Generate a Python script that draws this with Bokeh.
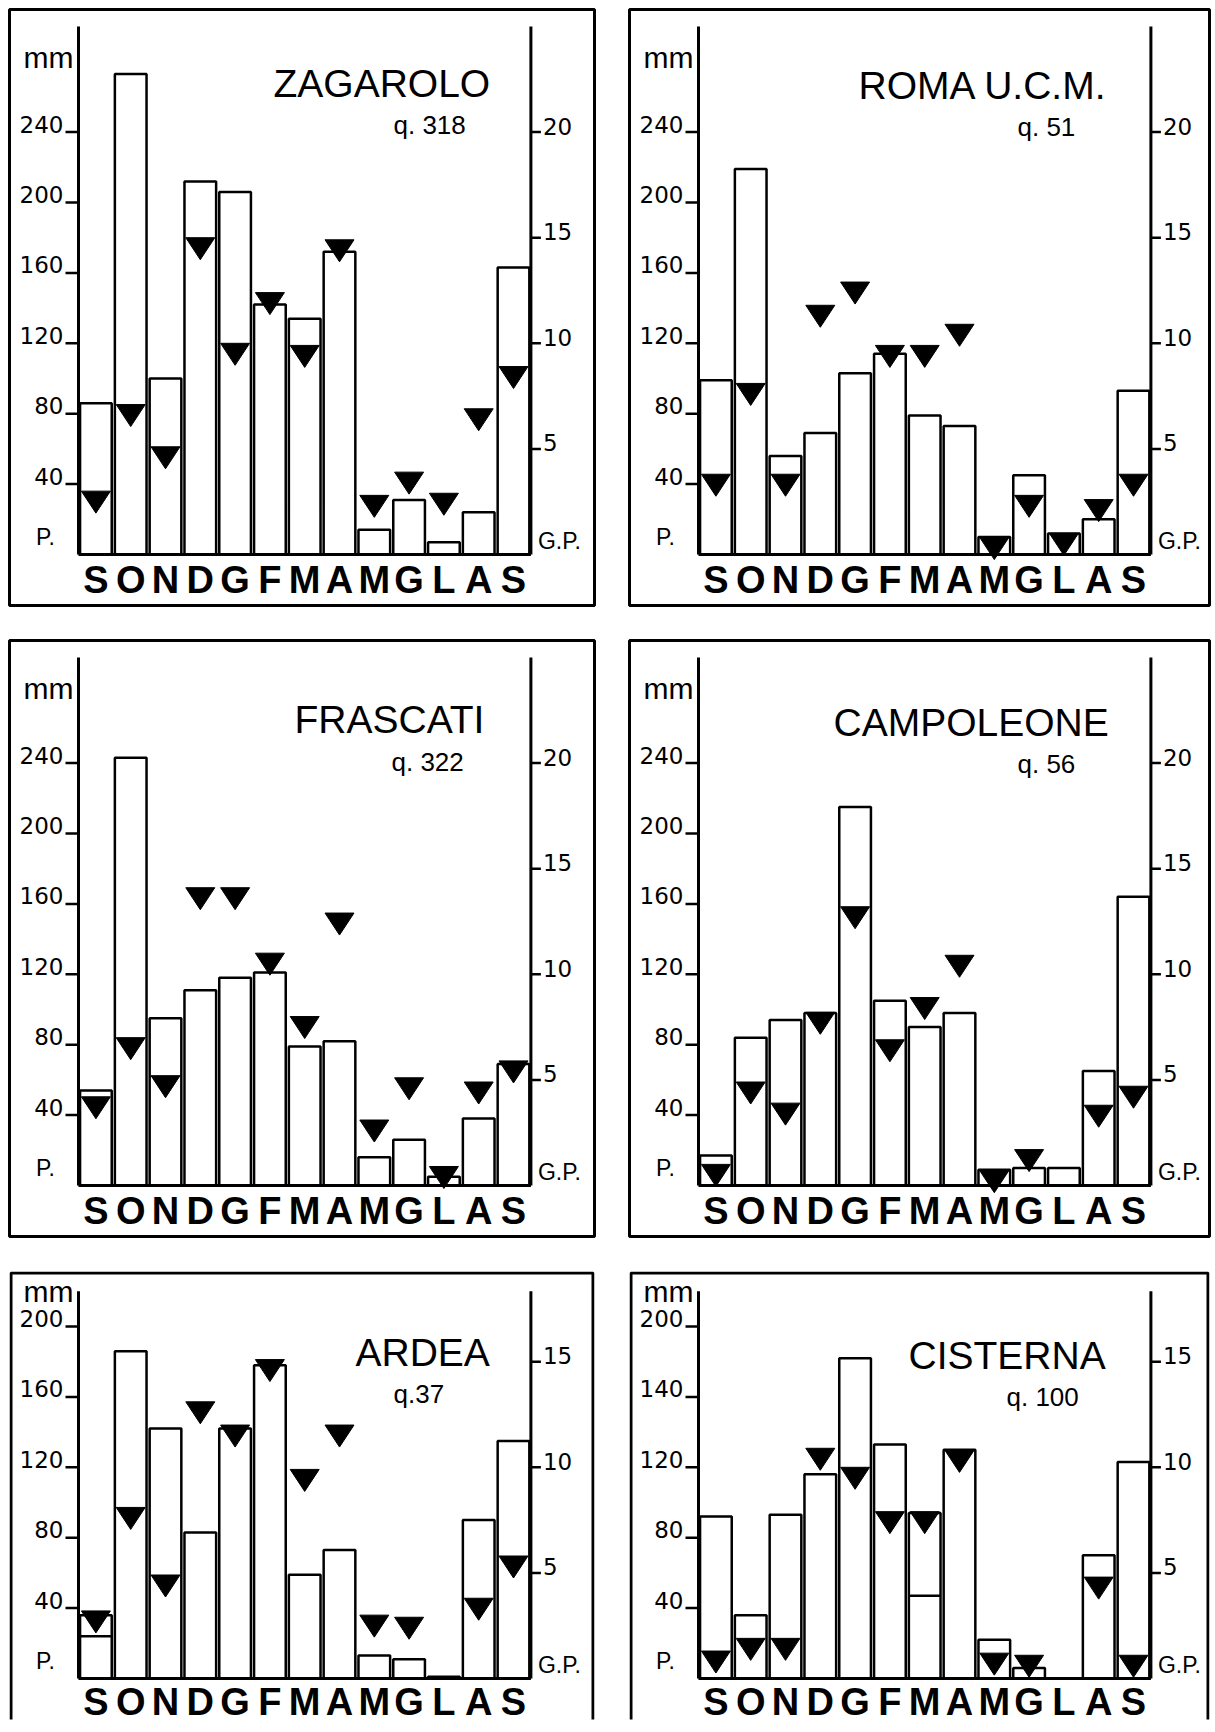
import math
from bokeh.plotting import figure
from bokeh.layouts import row, column
from bokeh.models import Range1d
from bokeh.core.properties import value
from bokeh.embed import file_html
from bokeh.resources import INLINE

NaN = float("nan")

# ---------------- data ----------------
months = ["S", "O", "N", "D", "G", "F", "M", "A", "M", "G", "L", "A", "S"]

# precipitation (mm) and rainy days (G.P.) per station
zag_rain = [86, 273, 100, 212, 206, 142, 134, 172, 14, 31, 7, 24, 163]
zag_days = [3.0, 7.1, 5.1, 15.0, 10.0, 12.4, 9.9, 14.9, 2.8, 3.9, 2.9, 6.9, 8.9]
zag_inner = [None] * 13

roma_rain = [99, 219, 56, 69, 103, 114, 79, 73, 10, 45, 12, 20, 93]
roma_days = [3.8, 8.1, 3.8, 11.8, 12.9, 9.9, 9.9, 10.9, 0.8, 2.8, 1.0, 2.6, 3.8]
roma_inner = [None] * 13

fra_rain = [54, 243, 95, 111, 118, 121, 79, 82, 16, 26, 5, 38, 69]
fra_days = [4.2, 7.0, 5.2, 14.1, 14.1, 11.0, 8.0, 12.9, 3.1, 5.1, 0.9, 4.9, 5.9]
fra_inner = [None] * 13

camp_rain = [17, 84, 94, 98, 215, 105, 90, 98, 9, 10, 10, 65, 164]
camp_days = [1.0, 4.9, 3.9, 8.2, 13.2, 6.9, 8.9, 10.9, 0.7, 1.7, NaN, 3.8, 4.7]
camp_inner = [None] * 13

ard_rain = [36, 186, 142, 83, 142, 178, 59, 73, 13, 11, 1, 90, 135]
ard_days = [3.2, 8.1, 4.9, 13.1, 12.0, 15.1, 9.9, 12.0, 3.0, 2.9, NaN, 3.8, 5.8]
ard_inner = [24, None, None, None, None, None, None, None, None, None, None, None, None]

cis_rain = [92, 36, 93, 116, 182, 133, 94, 130, 22, 6, 0, 70, 123]
cis_days = [1.3, 1.9, 1.9, 10.9, 10.0, 7.9, 7.9, 10.8, 1.2, 1.1, NaN, 4.8, 1.1]
cis_inner = [None, None, None, None, None, None, 47, None, None, None, None, None, None]

# axis ticks
top_mm_ticks = [40, 80, 120, 160, 200, 240]
top_mm_labels = ["40", "80", "120", "160", "200", "240"]
ard_mm_ticks = [40, 80, 120, 160, 200]
ard_mm_labels = ["40", "80", "120", "160", "200"]
cis_mm_ticks = [40, 80, 120, 160, 200]
cis_mm_labels = ["40", "80", "120", "140", "200"]
top_gp_ticks = [5, 10, 15, 20]
bot_gp_ticks = [5, 10, 15]
MM_PER_DAY = 12  # 1 rainy day on right axis = 12 mm on left axis

# ---------------- layout / style ----------------
K = 1.76        # px per mm
SLOT = 34.8     # px per month slot
AX = 69         # px from frame left to left axis
TRI_W = 29      # triangle width px
TRI_H = 22      # triangle height px
FONT = "Liberation Sans"
NUMFONT = "DejaVu Sans"


def panel(title, sub, rain, days, inner, mm_ticks, mm_labels, gp_ticks,
          fw, fh, base, axis_top, title_px, sub_px, mm_y, month_off, open_bottom):
    x0 = 0.5 - AX / SLOT
    x1 = x0 + fw / SLOT
    y0 = -base / K
    y1 = y0 + fh / K
    p = figure(title=None, frame_width=fw, frame_height=fh,
               x_range=Range1d(x0, x1), y_range=Range1d(y0, y1),
               toolbar_location=None, output_backend="svg",
               x_axis_location=None, y_axis_location=None, min_border=2)
    p.grid.grid_line_color = None
    p.background_fill_color = "white"
    p.border_fill_color = "white"
    if open_bottom:
        p.outline_line_color = None
        ix = 1.5 / SLOT
        iy = 1.5 / K
        p.line(x=[x0 + ix, x0 + ix, x1 - ix, x1 - ix],
               y=[y0 - 50, y1 - iy, y1 - iy, y0 - 50],
               line_color="black", line_width=3)
    else:
        p.outline_line_color = "black"
        p.outline_line_width = 3

    idx = list(range(1, 14))
    # bars
    p.vbar(x=idx, top=rain, bottom=0, width=0.91, fill_color="white",
           line_color="black", line_width=2.5)
    # inner lines
    ix_ = [i for i, v in zip(idx, inner) if v is not None]
    iv_ = [v for v in inner if v is not None]
    if ix_:
        p.segment(x0=[i - 0.455 for i in ix_], x1=[i + 0.455 for i in ix_],
                  y0=iv_, y1=iv_, line_color="black", line_width=2.5)
    # axes and baseline
    p.segment(x0=[0.5, 13.5, 0.5], x1=[0.5, 13.5, 13.5],
              y0=[0, 0, 0], y1=[axis_top, axis_top, 0],
              line_color="black", line_width=3)
    # left ticks
    n = len(mm_ticks)
    p.segment(x0=[0.5 - 13 / SLOT] * n, x1=[0.5] * n, y0=mm_ticks, y1=mm_ticks,
              line_color="black", line_width=2.5)
    p.text(x=[0.5 - 15 / SLOT] * n, y=mm_ticks, text=mm_labels,
           text_font=value(NUMFONT), text_font_size="23px", text_align="right",
           text_baseline="middle", y_offset=-8, text_color="black")
    # right ticks
    gy = [d * MM_PER_DAY for d in gp_ticks]
    m = len(gp_ticks)
    p.segment(x0=[13.5] * m, x1=[13.5 + 10 / SLOT] * m, y0=gy, y1=gy,
              line_color="black", line_width=2.5)
    p.text(x=[13.5 + 12 / SLOT] * m, y=gy, text=[str(g) for g in gp_ticks],
           text_font=value(NUMFONT), text_font_size="23px", text_align="left",
           text_baseline="middle", y_offset=-6, text_color="black")
    # triangles (rainy days, top edge = value)
    txs, tys = [], []
    hw = TRI_W / 2 / SLOT
    hh = TRI_H / K
    for i, d in zip(idx, days):
        if d is None or math.isnan(d):
            continue
        v = d * MM_PER_DAY
        txs.append([i - hw, i + hw, i])
        tys.append([v, v, v - hh])
    p.patches(txs, tys, fill_color="black", line_color="black", line_width=1)
    # month labels
    p.text(x=idx, y=[0] * 13, text=months, text_font=value(FONT),
           text_font_style="bold", text_font_size="38px", text_align="center",
           text_baseline="middle", y_offset=month_off, text_color="black")
    # unit labels
    p.text(x=[x0 + 39 / SLOT], y=[y1 - mm_y / K], text=["mm"], text_font=value(FONT),
           text_font_size="30px", text_align="center", text_baseline="middle")
    p.text(x=[x0 + 36 / SLOT], y=[0], text=["P."], text_font=value(FONT),
           text_font_size="23px", text_align="center", text_baseline="middle", y_offset=-18)
    p.text(x=[13.5 + 7 / SLOT], y=[0], text=["G.P."], text_font=value(FONT),
           text_font_size="23px", text_align="left", text_baseline="middle", y_offset=-14)
    # titles
    p.text(x=[x0 + title_px[0] / SLOT], y=[y1 - title_px[1] / K], text=[title],
           text_font=value(FONT), text_font_size="39px", text_align="left",
           text_baseline="middle")
    p.text(x=[x0 + sub_px[0] / SLOT], y=[y1 - sub_px[1] / K], text=[sub],
           text_font=value(FONT), text_font_size="26px", text_align="left",
           text_baseline="middle")
    return p


FW_L, FW_R = 585, 580
FH_T, BASE_T = 596, 51
FH_B, BASE_B = 448, 41

p1 = panel("ZAGAROLO", "q. 318", zag_rain, zag_days, zag_inner, top_mm_ticks, top_mm_labels,
           top_gp_ticks, FW_L, FH_T, BASE_T, 300, (264, 74), (384, 115), 48, 25, False)
p2 = panel("ROMA  U.C.M.", "q. 51", roma_rain, roma_days, roma_inner, top_mm_ticks, top_mm_labels,
           top_gp_ticks, FW_R, FH_T, BASE_T, 300, (229, 76), (388, 117), 48, 25, False)
p3 = panel("FRASCATI", "q. 322", fra_rain, fra_days, fra_inner, top_mm_ticks, top_mm_labels,
           top_gp_ticks, FW_L, FH_T, BASE_T, 300, (285, 79), (382, 121), 48, 25, False)
p4 = panel("CAMPOLEONE", "q. 56", camp_rain, camp_days, camp_inner, top_mm_ticks, top_mm_labels,
           top_gp_ticks, FW_R, FH_T, BASE_T, 300, (204, 82), (388, 123), 48, 25, False)
p5 = panel("ARDEA", "q.37", ard_rain, ard_days, ard_inner, ard_mm_ticks, ard_mm_labels,
           bot_gp_ticks, FW_L, FH_B, BASE_B, 220, (346, 81), (384, 122), 20, 23, True)
p6 = panel("CISTERNA", "q. 100", cis_rain, cis_days, cis_inner, cis_mm_ticks, cis_mm_labels,
           bot_gp_ticks, FW_R, FH_B, BASE_B, 220, (279, 84), (377, 125), 20, 23, True)

layout = column(row(p1, p2, spacing=31), row(p3, p4, spacing=31), row(p5, p6, spacing=31),
                spacing=31, margin=(7, 0, 0, 7))

open("out.html", "w").write(file_html(layout, INLINE))
